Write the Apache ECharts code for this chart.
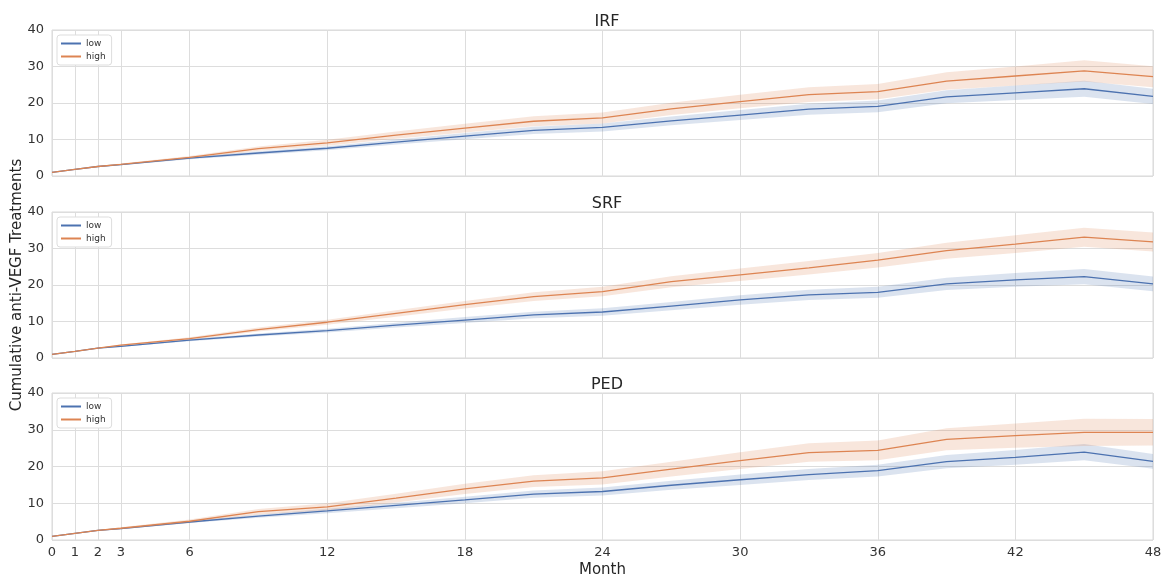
<!DOCTYPE html>
<html><head><meta charset="utf-8">
<script src="https://cdn.jsdelivr.net/npm/echarts@6/dist/echarts.min.js"></script>
<style>html,body{margin:0;padding:0;background:#fff}#c{width:1164px;height:576px}</style>
</head><body><div id="c"></div>
<script>
const months = [0,1,2,3,6,9,12,15,18,21,24,27,30,33,36,39,42,45,48];
const xTicks = [0,1,2,3,6,12,18,24,30,36,42,48];
const yTicks = [0,10,20,30,40];
const panels = ['IRF','SRF','PED'];
const groups = ['low','high'];

const irfLow  = [1.0,1.8,2.6,3.1,4.9,6.3,7.6,9.3,10.9,12.5,13.3,15.1,16.7,18.3,19.1,21.7,22.8,23.9,21.8];
const irfHigh = [1.0,1.8,2.6,3.2,5.1,7.5,9.1,11.2,13.1,15.0,15.9,18.4,20.4,22.3,23.1,26.0,27.4,28.8,27.2];
const srfLow  = [1.0,1.8,2.7,3.2,4.9,6.3,7.5,9.0,10.4,11.8,12.6,14.2,15.9,17.3,18.0,20.3,21.4,22.3,20.3];
const srfHigh = [1.0,1.8,2.7,3.5,5.3,7.8,9.8,12.2,14.6,16.8,18.2,20.9,22.8,24.7,26.8,29.4,31.2,33.1,31.8];
const pedLow  = [1.0,1.8,2.6,3.1,4.9,6.5,7.9,9.4,10.9,12.5,13.2,14.9,16.4,17.8,18.9,21.3,22.5,23.9,21.4];
const pedHigh = [1.0,1.8,2.6,3.2,5.1,7.7,9.0,11.4,13.9,16.0,16.9,19.3,21.6,23.8,24.4,27.4,28.4,29.3,29.3];

const irfLowErr  = [0,0.05,0.1,0.15,0.3,0.45,0.55,0.7,0.85,1.0,1.1,1.2,1.35,1.5,1.6,1.8,2.0,2.2,2.1];
const irfHighErr = [0,0.08,0.12,0.2,0.4,0.6,0.8,1.0,1.2,1.35,1.5,1.7,1.85,2.0,2.1,2.4,2.6,2.9,2.9];
const srfLowErr  = [0,0.05,0.1,0.15,0.3,0.4,0.5,0.65,0.8,0.9,1.0,1.15,1.3,1.4,1.5,1.7,1.9,2.1,2.0];
const srfHighErr = [0,0.08,0.12,0.2,0.4,0.55,0.7,0.9,1.05,1.2,1.3,1.5,1.7,1.85,2.0,2.2,2.4,2.6,2.6];
const pedLowErr  = [0,0.05,0.1,0.15,0.3,0.45,0.6,0.75,0.9,1.0,1.1,1.25,1.4,1.5,1.6,1.8,2.0,2.2,2.0];
const pedHighErr = [0,0.1,0.15,0.25,0.5,0.75,1.0,1.2,1.4,1.6,1.8,2.0,2.3,2.5,2.7,3.0,3.3,3.7,3.6];

const values = [[irfLow, irfHigh],[srfLow, srfHigh],[pedLow, pedHigh]];
const errs = [[irfLowErr, irfHighErr],[srfLowErr, srfHighErr],[pedLowErr, pedHighErr]];

const colors = ['#4c72b0','#dd8452'];
const bandColors = ['rgba(76,114,176,0.2)','rgba(221,132,82,0.2)'];
const FONT = 'DejaVu Sans';
const tops = [30, 212, 393];
const heights = [146, 146, 147];

const grids = [], xAxes = [], yAxes = [], series = [], titles = [], legends = [];
panels.forEach((p, i) => {
  grids.push({left: 52, right: 11, top: tops[i], height: heights[i], show: true, borderColor: '#d9d9d9', borderWidth: 1, containLabel: false, outerBoundsMode: 'none'});
  xAxes.push({
    type: 'value', gridIndex: i, min: 0, max: 48,
    axisLine: {show: false}, axisTick: {show: false, customValues: xTicks},
    axisLabel: {show: i === 2, customValues: xTicks, fontSize: 13, color: '#333', fontFamily: FONT, margin: 6},
    splitLine: {show: true, lineStyle: {color: '#dddddd', width: 1}},
    name: i === 2 ? 'Month' : '', nameLocation: 'middle', nameGap: 23,
    nameTextStyle: {fontSize: 15, color: '#262626', fontFamily: FONT}
  });
  yAxes.push({
    type: 'value', gridIndex: i, min: 0, max: 40, interval: 10,
    axisLine: {show: false}, axisTick: {show: false},
    axisLabel: {fontSize: 13, color: '#333', fontFamily: FONT, margin: 8},
    splitLine: {show: true, lineStyle: {color: '#dddddd', width: 1}}
  });
  titles.push({text: p, left: 602, top: tops[i] - 21, textAlign: 'center',
    textStyle: {fontSize: 16, fontWeight: 'normal', color: '#262626', fontFamily: FONT}});
  legends.push({
    data: groups, orient: 'vertical', left: 57, top: tops[i] + 5,
    backgroundColor: '#fff', borderColor: '#dddddd', borderWidth: 1, borderRadius: 3,
    padding: [4, 6, 4, 4], itemGap: 4, itemWidth: 20, itemHeight: 2, icon: 'rect',
    textStyle: {fontSize: 9, color: '#333', fontFamily: FONT}
  });
  groups.forEach((g, k) => {
    const v = values[i][k], e = errs[i][k];
    const bandData = months.map((m, j) => [m, v[j] - e[j], v[j] + e[j]]);
    series.push({
      name: g + ' band ' + p, type: 'custom', xAxisIndex: i, yAxisIndex: i,
      data: [0], silent: true, z: 1,
      renderItem: (params, api) => {
        const upper = bandData.map(d => api.coord([d[0], d[2]]));
        const lower = bandData.slice().reverse().map(d => api.coord([d[0], d[1]]));
        return {type: 'polygon', shape: {points: upper.concat(lower)}, style: {fill: bandColors[k]}};
      }
    });
    series.push({
      name: g, type: 'line', xAxisIndex: i, yAxisIndex: i,
      data: months.map((m, j) => [m, v[j]]), showSymbol: false,
      color: colors[k], lineStyle: {color: colors[k], width: 1.3}, z: 3
    });
  });
});

const chart = echarts.init(document.getElementById('c'), null, {renderer: 'canvas'});
chart.setOption({
  animation: false,
  backgroundColor: '#fff',
  title: titles,
  legend: legends,
  grid: grids,
  xAxis: xAxes,
  yAxis: yAxes,
  series: series,
  graphic: [{
    type: 'text', x: 17, y: 285, rotation: Math.PI / 2,
    style: {text: 'Cumulative anti-VEGF Treatments', fontSize: 15, fill: '#262626', fontFamily: FONT,
      textAlign: 'center', textVerticalAlign: 'middle'}
  }]
});
</script></body></html>
